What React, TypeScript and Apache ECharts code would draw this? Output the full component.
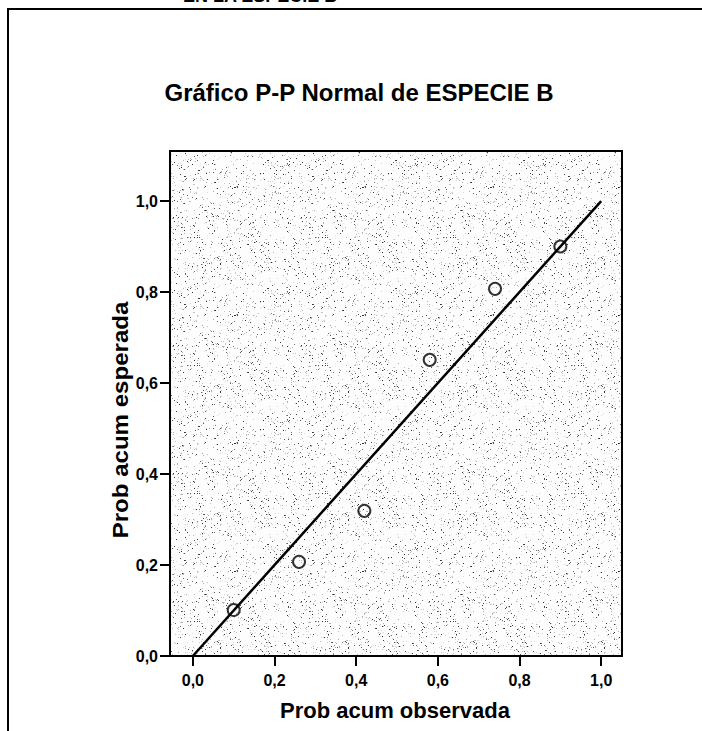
import React, { useEffect, useRef } from "react";
import * as echarts from "echarts";

const obsProb = [0.1, 0.26, 0.42, 0.58, 0.74, 0.9];
const expProb = [0.101, 0.207, 0.319, 0.651, 0.807, 0.9];
const refLine = [
  [0, 0],
  [1, 1],
];
const tickValues = [0, 0.2, 0.4, 0.6, 0.8, 1.0];
const titleText = "Gráfico P-P Normal de ESPECIE B";
const headerText = "EN LA ESPECIE B";
const xName = "Prob acum observada";
const yName = "Prob acum esperada";

const FONT = "'Liberation Sans', Arial, Helvetica, sans-serif";

// deterministic stipple texture for the plot background (style only)
function makeStipple(): HTMLCanvasElement | string {
  const size = 128;
  const c = document.createElement("canvas");
  c.width = size;
  c.height = size;
  const ctx = c.getContext("2d");
  if (!ctx) return "#ededed";
  ctx.fillStyle = "#fdfdfd";
  ctx.fillRect(0, 0, size, size);
  let h = 2166136261;
  const next = () => {
    h ^= h << 13;
    h ^= h >>> 17;
    h ^= h << 5;
    return ((h >>> 0) % 10000) / 10000;
  };
  for (let y = 0; y < size; y++) {
    for (let x = 0; x < size; x++) {
      const r = next();
      if (r < 0.022) {
        const g = Math.floor(40 + next() * 90);
        ctx.fillStyle = `rgb(${g},${g},${g})`;
        ctx.fillRect(x, y, 1, 1);
      } else if (r < 0.07) {
        const g = Math.floor(165 + next() * 65);
        ctx.fillStyle = `rgb(${g},${g},${g})`;
        ctx.fillRect(x, y, 1, 1);
      }
    }
  }
  return c;
}

export default function App() {
  const ref = useRef<HTMLDivElement>(null);
  useEffect(() => {
    document.body.style.margin = "0";
    const chart = echarts.init(ref.current!, null, { renderer: "svg" });
    const fmt = (v: number) => v.toFixed(1).replace(".", ",");
    const tex = makeStipple();
    const bg = typeof tex === "string" ? tex : { image: tex, repeat: "repeat" };
    chart.setOption({
      animation: false,
      backgroundColor: "#ffffff",
      textStyle: { fontFamily: FONT },
      grid: {
        left: 170,
        top: 151,
        width: 452,
        height: 505,
        show: true,
        backgroundColor: bg,
        borderColor: "#000",
        borderWidth: 2,
      },
      xAxis: {
        type: "value",
        min: -0.056,
        max: 1.051,
        axisLine: { show: true, onZero: false, lineStyle: { color: "#000", width: 2 } },
        axisTick: {
          show: true,
          customValues: tickValues,
          length: 10,
          lineStyle: { color: "#000", width: 2 },
        },
        axisLabel: {
          customValues: tickValues,
          formatter: fmt,
          color: "#000",
          fontSize: 16,
          fontWeight: "bold",
          fontFamily: FONT,
          margin: 16,
        },
        splitLine: { show: false },
      },
      yAxis: {
        type: "value",
        min: 0,
        max: 1.11,
        axisLine: { show: true, onZero: false, lineStyle: { color: "#000", width: 2 } },
        axisTick: {
          show: true,
          customValues: tickValues,
          length: 10,
          lineStyle: { color: "#000", width: 2 },
        },
        axisLabel: {
          customValues: tickValues,
          formatter: fmt,
          color: "#000",
          fontSize: 16,
          fontWeight: "bold",
          fontFamily: FONT,
          margin: 12,
        },
        splitLine: { show: false },
      },
      series: [
        {
          type: "line",
          data: refLine,
          symbol: "none",
          lineStyle: { color: "#000", width: 2.5 },
          z: 2,
        },
        {
          type: "scatter",
          data: obsProb.map((x, i) => [x, expProb[i]]),
          symbol: "circle",
          symbolSize: 12,
          itemStyle: { color: "rgba(0,0,0,0)", borderColor: "#000", borderWidth: 2 },
          z: 3,
        },
      ],
      graphic: [
        {
          type: "line",
          shape: { x1: 7, y1: 9, x2: 702, y2: 9 },
          style: { stroke: "#000", lineWidth: 2 },
        },
        {
          type: "line",
          shape: { x1: 8, y1: 9, x2: 8, y2: 731 },
          style: { stroke: "#000", lineWidth: 2 },
        },
        {
          type: "text",
          x: 183,
          y: 5,
          style: {
            text: headerText,
            font: `bold 18px ${FONT}`,
            fill: "#000",
            textAlign: "left",
            textVerticalAlign: "bottom",
          },
        },
        {
          type: "text",
          x: 359,
          y: 92,
          style: {
            text: titleText,
            font: `bold 24px ${FONT}`,
            fill: "#000",
            textAlign: "center",
            textVerticalAlign: "middle",
          },
        },
        {
          type: "text",
          x: 395,
          y: 710,
          style: {
            text: xName,
            font: `bold 22px ${FONT}`,
            fill: "#000",
            textAlign: "center",
            textVerticalAlign: "middle",
          },
        },
        {
          type: "text",
          x: 120,
          y: 420,
          rotation: Math.PI / 2,
          scaleX: 1.12,
          style: {
            text: yName,
            font: `bold 21.5px ${FONT}`,
            fill: "#000",
            textAlign: "center",
            textVerticalAlign: "middle",
          },
        },
      ],
    });
    return () => chart.dispose();
  }, []);
  return <div ref={ref} style={{ width: 702, height: 731 }} />;
}
